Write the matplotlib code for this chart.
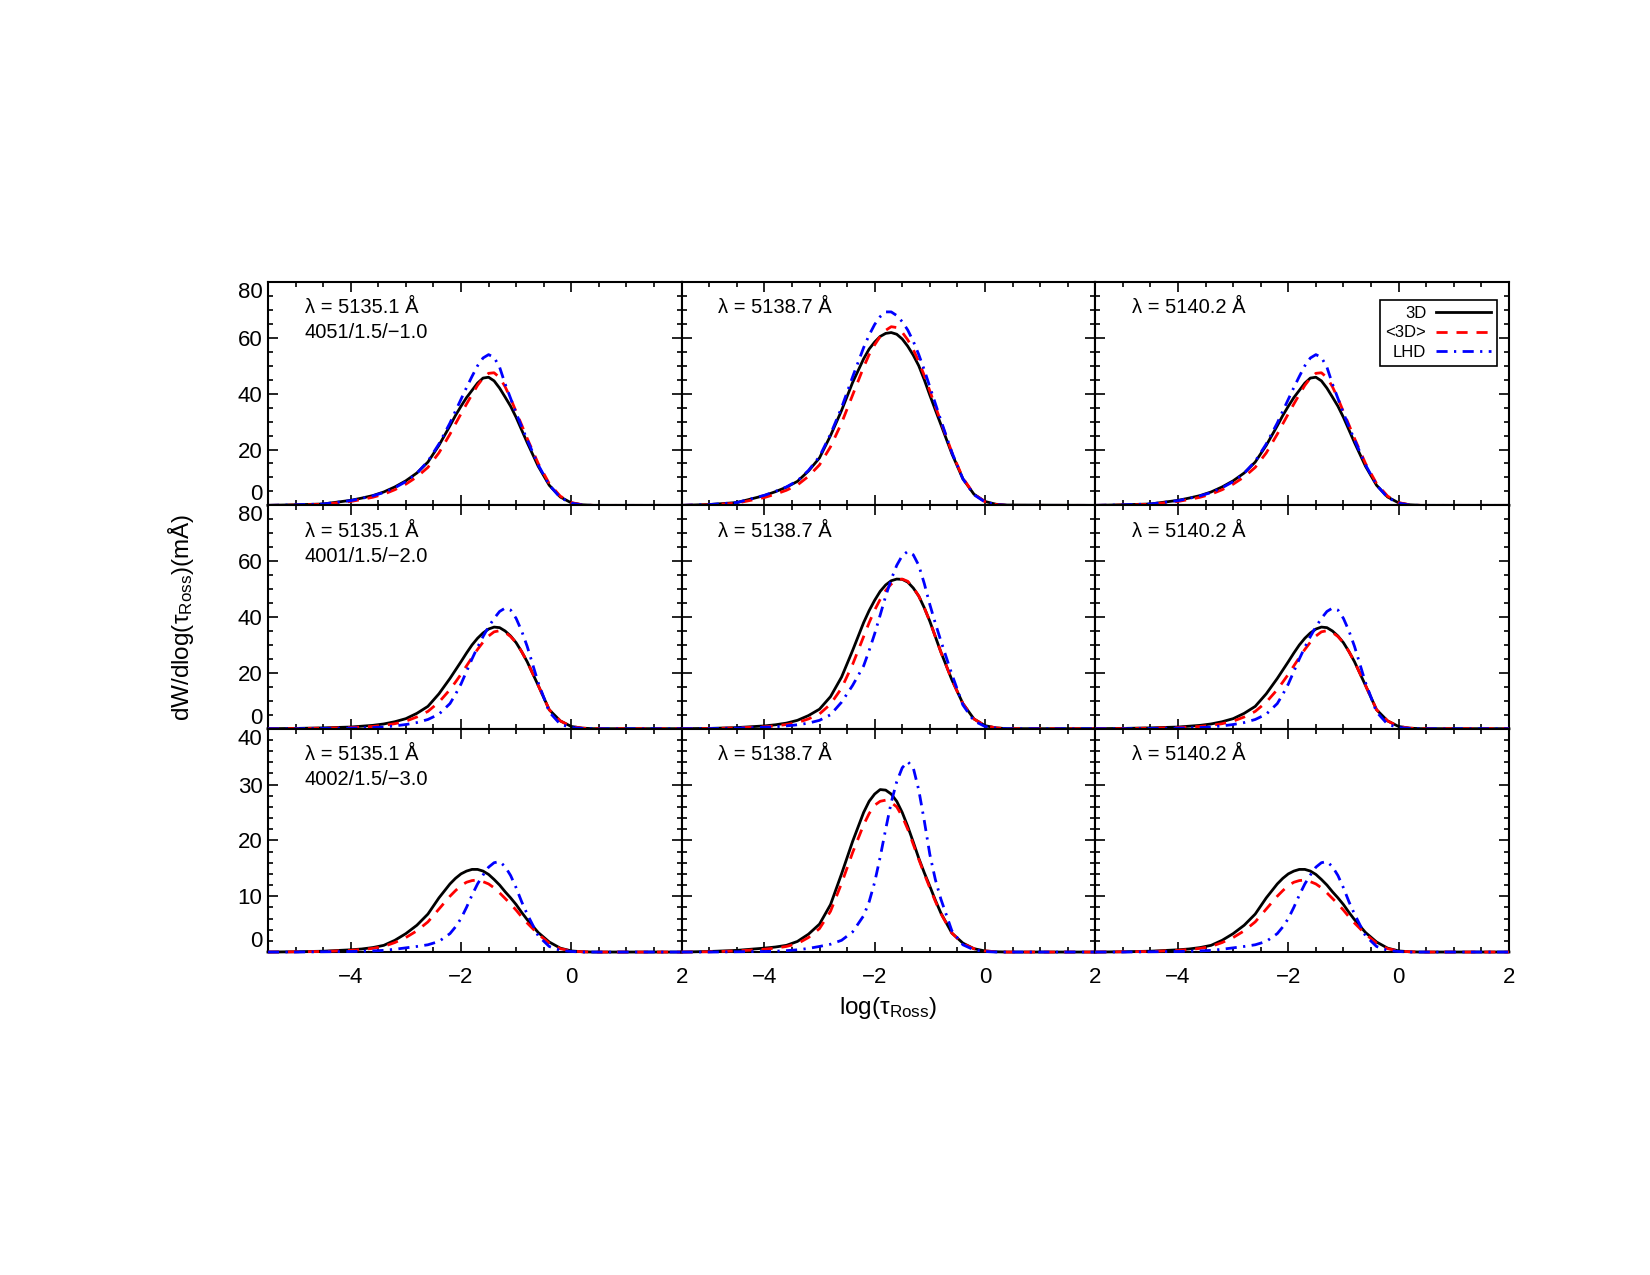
import matplotlib
matplotlib.use("Agg")
import matplotlib.pyplot as plt
from matplotlib.ticker import MultipleLocator

plt.rcParams['font.family'] = ['Liberation Sans', 'DejaVu Sans']
plt.rcParams['mathtext.default'] = 'regular'

# log(tau_Ross) sampling used for all curves (finer around the peaks)
logtau = [-5.5, -5.0, -4.5, -4.0, -3.8, -3.6, -3.4, -3.2, -3.0, -2.8, -2.6, -2.4,
          -2.2, -2.1, -2.0, -1.9, -1.8, -1.7, -1.6, -1.5, -1.4, -1.3, -1.2, -1.1, -1.0, -0.9, -0.8,
          -0.6, -0.4, -0.2, 0.0, 0.2, 0.4, 2.0]

lines = ['5135.1', '5138.7', '5140.2']
models = ['4051/1.5/\u22121.0', '4001/1.5/\u22122.0', '4002/1.5/\u22123.0']
labels = ['3D', '<3D>', 'LHD']

# model 4051/1.5/-1.0
m4051_5135_3d = [0, 0.2, 0.5, 1.8, 2.6, 3.5, 4.8, 6.6, 8.8, 11.6, 15.5, 21.5,
                 28.5, 32.2, 35.5, 38.6, 41.2, 43.8, 45.6, 45.9, 44.6, 42.0, 38.8, 35.5, 31.5, 27.0, 22.5,
                 14.0, 7.2, 3.0, 0.9, 0.2, 0, 0]
m4051_5135_avg = [0, 0.1, 0.4, 1.4, 2.1, 2.9, 4.0, 5.6, 7.6, 10.2, 13.6, 18.8,
                  25.5, 29.2, 32.8, 36.3, 39.7, 43.0, 45.6, 47.3, 47.5, 45.8, 42.5, 38.3, 33.5, 28.8, 24.0,
                  15.0, 7.8, 3.3, 1.0, 0.2, 0, 0]
m4051_5135_lhd = [0, 0.2, 0.5, 1.7, 2.5, 3.4, 4.6, 6.3, 8.5, 11.5, 15.8, 22.0,
                  29.5, 33.8, 38.0, 42.2, 46.2, 50.0, 52.8, 54.0, 53.0, 49.5, 43.5, 38.3, 33.0, 28.2, 23.5,
                  14.5, 7.3, 2.8, 0.8, 0.1, 0, 0]
m4051_5138_3d = [0, 0.3, 1.0, 3.5, 4.9, 6.5, 8.6, 12.3, 17.0, 25.0, 34.0, 44.0,
                 52.5, 56.0, 58.5, 60.5, 61.6, 61.9, 61.3, 59.6, 57.0, 53.8, 50.0, 45.0, 39.5, 34.2, 29.0,
                 18.5, 9.5, 4.0, 1.4, 0.4, 0.1, 0]
m4051_5138_avg = [0, 0.2, 0.8, 2.8, 4.0, 5.4, 7.3, 10.4, 14.5, 21.0, 29.5, 39.5,
                  49.5, 54.0, 57.5, 60.5, 62.7, 64.0, 63.7, 62.0, 59.3, 55.8, 51.5, 46.5, 41.0, 35.5, 30.0,
                  19.0, 9.8, 4.0, 1.3, 0.3, 0, 0]
m4051_5138_lhd = [0, 0.3, 1.0, 3.6, 5.0, 6.6, 8.8, 12.5, 17.5, 25.5, 35.0, 46.0,
                  56.5, 61.0, 64.8, 67.6, 69.3, 69.3, 68.0, 65.8, 62.8, 58.8, 54.0, 48.5, 42.5, 36.5, 30.5,
                  19.0, 9.5, 3.8, 1.2, 0.3, 0, 0]
# 5140.2 curves cannot be told apart from 5135.1 in the figure
m4051_5140_3d = m4051_5135_3d
m4051_5140_avg = m4051_5135_avg
m4051_5140_lhd = m4051_5135_lhd

# model 4001/1.5/-2.0
m4001_5135_3d = [0, 0.1, 0.3, 0.6, 0.9, 1.2, 1.7, 2.5, 3.6, 5.5, 8.0, 12.5,
                 18.0, 21.0, 24.0, 27.1, 30.0, 32.4, 34.3, 35.7, 36.4, 36.2, 35.0, 33.2, 30.8, 27.6, 24.0,
                 15.5, 6.8, 2.8, 0.8, 0.2, 0, 0]
m4001_5135_avg = [0, 0.05, 0.2, 0.4, 0.6, 0.8, 1.2, 1.8, 2.7, 4.2, 6.2, 9.5,
                  14.0, 16.7, 19.5, 22.5, 25.5, 28.4, 31.0, 33.2, 34.7, 35.1, 34.5, 33.0, 30.8, 27.6, 24.0,
                  15.5, 6.8, 2.8, 0.8, 0.2, 0, 0]
m4001_5135_lhd = [0, 0, 0.1, 0.2, 0.3, 0.4, 0.6, 1.0, 1.5, 2.2, 3.3, 5.2,
                  9.0, 12.3, 16.0, 20.5, 25.0, 29.2, 33.0, 36.5, 39.5, 42.0, 43.2, 42.5, 39.5, 35.0, 29.5,
                  16.5, 6.0, 1.6, 0.4, 0.1, 0, 0]
m4001_5138_3d = [0, 0.1, 0.4, 1.0, 1.4, 2.0, 3.0, 4.7, 7.0, 11.5, 18.5, 28.0,
                 38.0, 42.3, 46.0, 49.2, 51.5, 53.0, 53.6, 53.5, 52.5, 50.4, 47.5, 43.3, 38.5, 33.0, 27.5,
                 17.5, 9.0, 3.5, 1.1, 0.3, 0, 0]
m4001_5138_avg = [0, 0.05, 0.3, 0.7, 1.0, 1.5, 2.2, 3.5, 5.3, 8.8, 14.5, 23.0,
                  33.0, 38.0, 42.5, 46.3, 49.5, 51.8, 53.2, 53.6, 52.8, 50.5, 47.5, 43.3, 38.5, 33.0, 27.5,
                  17.5, 9.0, 3.5, 1.1, 0.3, 0, 0]
m4001_5138_lhd = [0, 0.05, 0.2, 0.5, 0.7, 1.0, 1.4, 2.0, 3.0, 5.0, 9.5, 15.5,
                  22.5, 28.0, 34.0, 40.7, 47.5, 53.5, 58.5, 62.0, 63.5, 62.3, 58.5, 52.0, 44.5, 37.8, 31.5,
                  19.5, 8.5, 2.8, 0.8, 0.2, 0, 0]
m4001_5140_3d = m4001_5135_3d
m4001_5140_avg = m4001_5135_avg
m4001_5140_lhd = m4001_5135_lhd

# model 4002/1.5/-3.0
m4002_5135_3d = [0, 0.05, 0.15, 0.4, 0.55, 0.8, 1.2, 2.1, 3.3, 4.8, 6.8, 9.7,
                 12.2, 13.2, 14.0, 14.5, 14.8, 14.8, 14.5, 13.9, 13.0, 12.0, 10.8, 9.7, 8.5, 7.1, 5.8,
                 3.5, 1.8, 0.7, 0.2, 0.05, 0, 0]
m4002_5135_avg = [0, 0.05, 0.1, 0.3, 0.45, 0.65, 1.0, 1.7, 2.6, 3.8, 5.4, 7.7,
                  10.0, 11.0, 11.9, 12.5, 12.8, 12.9, 12.6, 12.2, 11.5, 10.6, 9.6, 8.6, 7.5, 6.3, 5.2,
                  3.2, 1.6, 0.6, 0.2, 0.05, 0, 0]
m4002_5135_lhd = [0, 0, 0.05, 0.1, 0.15, 0.2, 0.3, 0.5, 0.75, 1.0, 1.3, 1.9,
                  3.3, 4.5, 6.0, 8.0, 10.2, 12.2, 13.8, 15.2, 16.0, 16.2, 15.3, 13.7, 11.5, 9.0, 6.8,
                  2.9, 1.0, 0.3, 0.1, 0, 0, 0]
m4002_5138_3d = [0, 0.1, 0.3, 0.7, 0.9, 1.2, 1.9, 3.2, 5.0, 8.5, 14.0, 19.8,
                 25.0, 27.0, 28.3, 29.1, 29.0, 28.3, 27.0, 25.0, 22.5, 19.7, 16.8, 14.2, 11.8, 9.3, 7.0,
                 3.4, 1.6, 0.6, 0.2, 0.05, 0, 0]
m4002_5138_avg = [0, 0.05, 0.2, 0.5, 0.7, 1.0, 1.5, 2.6, 4.2, 7.3, 12.3, 17.8,
                  22.8, 24.8, 26.3, 27.0, 27.2, 26.8, 26.0, 24.3, 22.0, 19.3, 16.6, 14.0, 11.5, 9.1, 6.9,
                  3.4, 1.5, 0.6, 0.2, 0.05, 0, 0]
m4002_5138_lhd = [0, 0, 0.05, 0.1, 0.15, 0.25, 0.4, 0.65, 1.0, 1.4, 2.1, 3.6,
                  6.5, 9.0, 12.5, 17.0, 22.0, 26.8, 30.5, 33.0, 34.1, 33.0, 29.0, 23.5, 17.5, 13.0, 9.5,
                  3.8, 1.3, 0.4, 0.1, 0, 0, 0]
m4002_5140_3d = m4002_5135_3d
m4002_5140_avg = m4002_5135_avg
m4002_5140_lhd = m4002_5135_lhd

panels = [
    [(m4051_5135_3d, m4051_5135_avg, m4051_5135_lhd),
     (m4051_5138_3d, m4051_5138_avg, m4051_5138_lhd),
     (m4051_5140_3d, m4051_5140_avg, m4051_5140_lhd)],
    [(m4001_5135_3d, m4001_5135_avg, m4001_5135_lhd),
     (m4001_5138_3d, m4001_5138_avg, m4001_5138_lhd),
     (m4001_5140_3d, m4001_5140_avg, m4001_5140_lhd)],
    [(m4002_5135_3d, m4002_5135_avg, m4002_5135_lhd),
     (m4002_5138_3d, m4002_5138_avg, m4002_5138_lhd),
     (m4002_5140_3d, m4002_5140_avg, m4002_5140_lhd)],
]
yticks = [[0, 20, 40, 60, 80], [0, 20, 40, 60, 80], [0, 10, 20, 30, 40]]
yminor = [5, 5, 2]

styles = [dict(color='black', ls='-'),
          dict(color='red', dashes=(4, 3.2)),
          dict(color='blue', dashes=(4, 2.3, 0.8, 2.3))]

fig, axes = plt.subplots(3, 3, figsize=(16.5, 12.75), dpi=100)
fig.subplots_adjust(left=0.1624, right=0.9145, bottom=0.2533, top=0.7788,
                    wspace=0, hspace=0)

for r in range(3):
    for c in range(3):
        ax = axes[r, c]
        for series, st, lab in zip(panels[r][c], styles, labels):
            ax.plot(logtau, series, lw=2.0, label=lab, clip_on=False, zorder=3, **st)
        ax.set_xlim(-5.5, 2)
        ax.set_ylim(yticks[r][0], yticks[r][-1])
        ax.set_xticks([-4, -2, 0, 2])
        ax.xaxis.set_minor_locator(MultipleLocator(0.5))
        ax.set_yticks(yticks[r])
        ax.yaxis.set_minor_locator(MultipleLocator(yminor[r]))
        ax.tick_params(which='both', direction='in', top=True, right=True,
                       labelsize=16, width=1.2)
        ax.tick_params(which='major', length=7)
        ax.tick_params(which='minor', length=3.5)
        ax.tick_params(axis='x', pad=11)
        ax.tick_params(axis='y', pad=4)
        for sp in ax.spines.values():
            sp.set_linewidth(1.5)
        if c > 0:
            ax.tick_params(labelleft=False)
        else:
            ylabs = ax.get_yticklabels()
            ylabs[0].set_va('bottom')
            ylabs[-1].set_va('top')
        if r < 2:
            ax.tick_params(labelbottom=False)
        ax.text(0.089, 0.884, '\u03bb = ' + lines[c] + ' \u00c5', transform=ax.transAxes,
                fontsize=14.5, va='center', ha='left')
        if c == 0:
            ax.text(0.089, 0.772, models[r], transform=ax.transAxes,
                    fontsize=14.5, va='center', ha='left')

leg = axes[0, 2].legend(loc='upper right', bbox_to_anchor=(0.971, 0.92), markerfirst=False,
                        fancybox=False, edgecolor='black', fontsize=12, handlelength=3.3,
                        borderaxespad=0, labelspacing=0.28, borderpad=0.35,
                        handletextpad=0.6, framealpha=1)
leg.get_frame().set_linewidth(1.2)
leg._legend_box.align = 'right'

fig.text(0.1097, 0.516, 'dW/dlog(\u03c4$_{Ross}$)(m\u00c5)', rotation=90,
         fontsize=17.5, ha='center', va='center')
fig.text(0.538, 0.2095, 'log(\u03c4$_{Ross}$)', fontsize=17.5, ha='center', va='center')

fig.savefig('out.png', dpi=100)
